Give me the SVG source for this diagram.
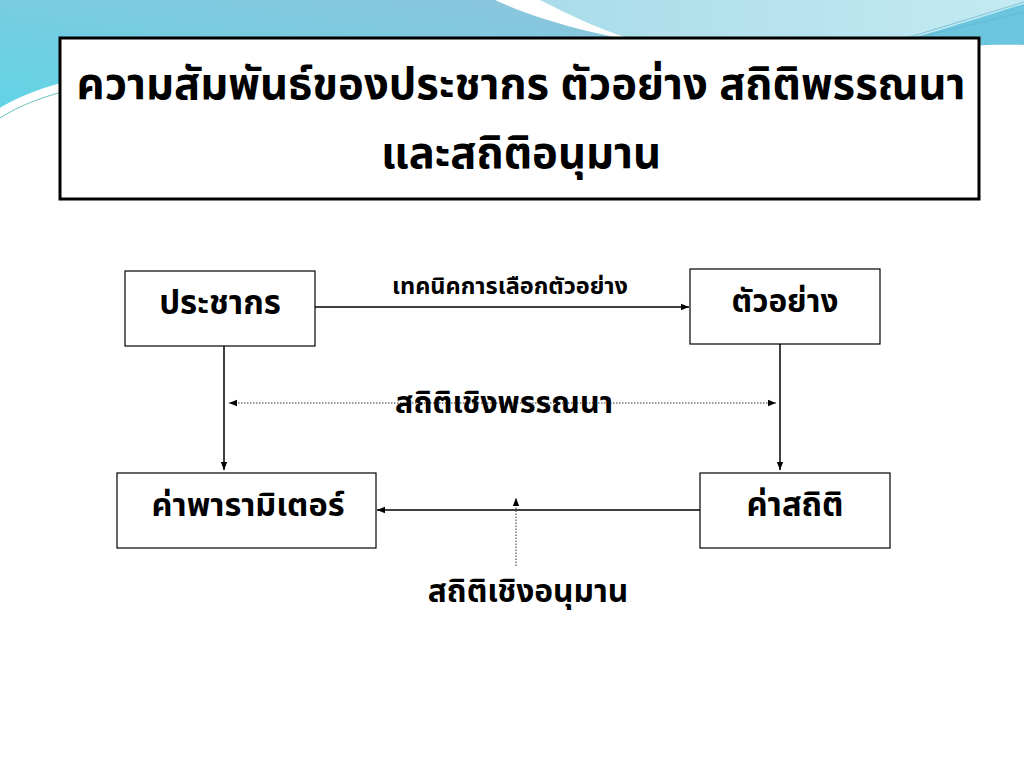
<svg xmlns="http://www.w3.org/2000/svg" width="1024" height="768" viewBox="0 0 1024 768">
<defs>
<linearGradient id="gL" x1="0" y1="1" x2="1" y2="0">
<stop offset="0" stop-color="#62d4e6"/>
<stop offset="1" stop-color="#8fc4dc"/>
</linearGradient>
<linearGradient id="gR" x1="0" y1="0" x2="1" y2="0">
<stop offset="0" stop-color="#a9dcea"/>
<stop offset="1" stop-color="#c4eaf2"/>
</linearGradient>
<marker id="ah" viewBox="0 0 10 10" refX="10" refY="5" markerWidth="8" markerHeight="8" markerUnits="userSpaceOnUse" orient="auto-start-reverse">
<path d="M0,1 L10,5 L0,9 Z" fill="#000"/>
</marker>
<style>
.box{fill:#fff;stroke:#000;stroke-width:1.2}
.t{font-family:"Noto Sans Thai","Noto Sans","DejaVu Sans",sans-serif;font-weight:bold;fill:#000;text-anchor:middle}
.ln{stroke:#000;stroke-width:1.5;fill:none}
.dot{stroke:#333;stroke-width:1;stroke-dasharray:1.5 1.5;fill:none}
</style>
</defs>
<rect width="1024" height="768" fill="#fff"/>
<g id="background">
<path d="M0,0 H495 C525,14 565,28 640,42 L640,70 L80,78 C45,86 15,98 0,108 Z" fill="url(#gL)"/>
<path d="M540,0 H1024 V8 C990,20 950,30 905,40 L640,42 C600,30 570,15 540,0 Z" fill="url(#gR)"/>
<path d="M905,40 C950,28 990,14 1024,4 V45 C1000,44 960,45 925,50 Z" fill="#6cc5df"/>
<path d="M900,40 L1024,2 M915,38 L1024,12" stroke="#5fb3cc" stroke-width="0.7" fill="none"/>
<path d="M0,118 C20,105 45,96 70,90" stroke="#3fb5b5" stroke-width="0.8" fill="none"/>
</g>
<g id="title">
<rect x="60" y="38" width="919" height="161" fill="#fff" stroke="#000" stroke-width="3"/>
<text class="t" x="521" y="99" font-size="43.5">ความสัมพันธ์ของประชากร ตัวอย่าง สถิติพรรณนา</text>
<text class="t" x="521" y="168" font-size="43.5">และสถิติอนุมาน</text>
</g>
<g id="connectors">
<line class="ln" x1="315" y1="307" x2="689" y2="307" marker-end="url(#ah)"/>
<line class="ln" x1="224" y1="346" x2="224" y2="470" marker-end="url(#ah)"/>
<line class="ln" x1="780" y1="344" x2="780" y2="470" marker-end="url(#ah)"/>
<line class="dot" x1="229" y1="403" x2="776" y2="403" marker-start="url(#ah)" marker-end="url(#ah)"/>
<line class="ln" x1="700" y1="510" x2="377" y2="510" marker-end="url(#ah)"/>
<line class="dot" x1="516" y1="566" x2="516" y2="498" marker-end="url(#ah)"/>
<text class="t" x="510" y="294" font-size="23.5">เทคนิคการเลือกตัวอย่าง</text>
<text class="t" x="504" y="413" font-size="30.5">สถิติเชิงพรรณนา</text>
<text class="t" x="528" y="602" font-size="31.7">สถิติเชิงอนุมาน</text>
</g>
<g id="node-population">
<rect class="box" x="125" y="271" width="190" height="75"/>
<text class="t" x="220" y="314" font-size="33">ประชากร</text>
</g>
<g id="node-sample">
<rect class="box" x="690" y="269" width="190" height="75"/>
<text class="t" x="785" y="312" font-size="31.5">ตัวอย่าง</text>
</g>
<g id="node-parameter">
<rect class="box" x="117" y="473" width="259" height="75"/>
<text class="t" x="248" y="516" font-size="32.5">ค่าพารามิเตอร์</text>
</g>
<g id="node-statistic">
<rect class="box" x="700" y="473" width="190" height="75"/>
<text class="t" x="795" y="516" font-size="32.8">ค่าสถิติ</text>
</g>
</svg>
